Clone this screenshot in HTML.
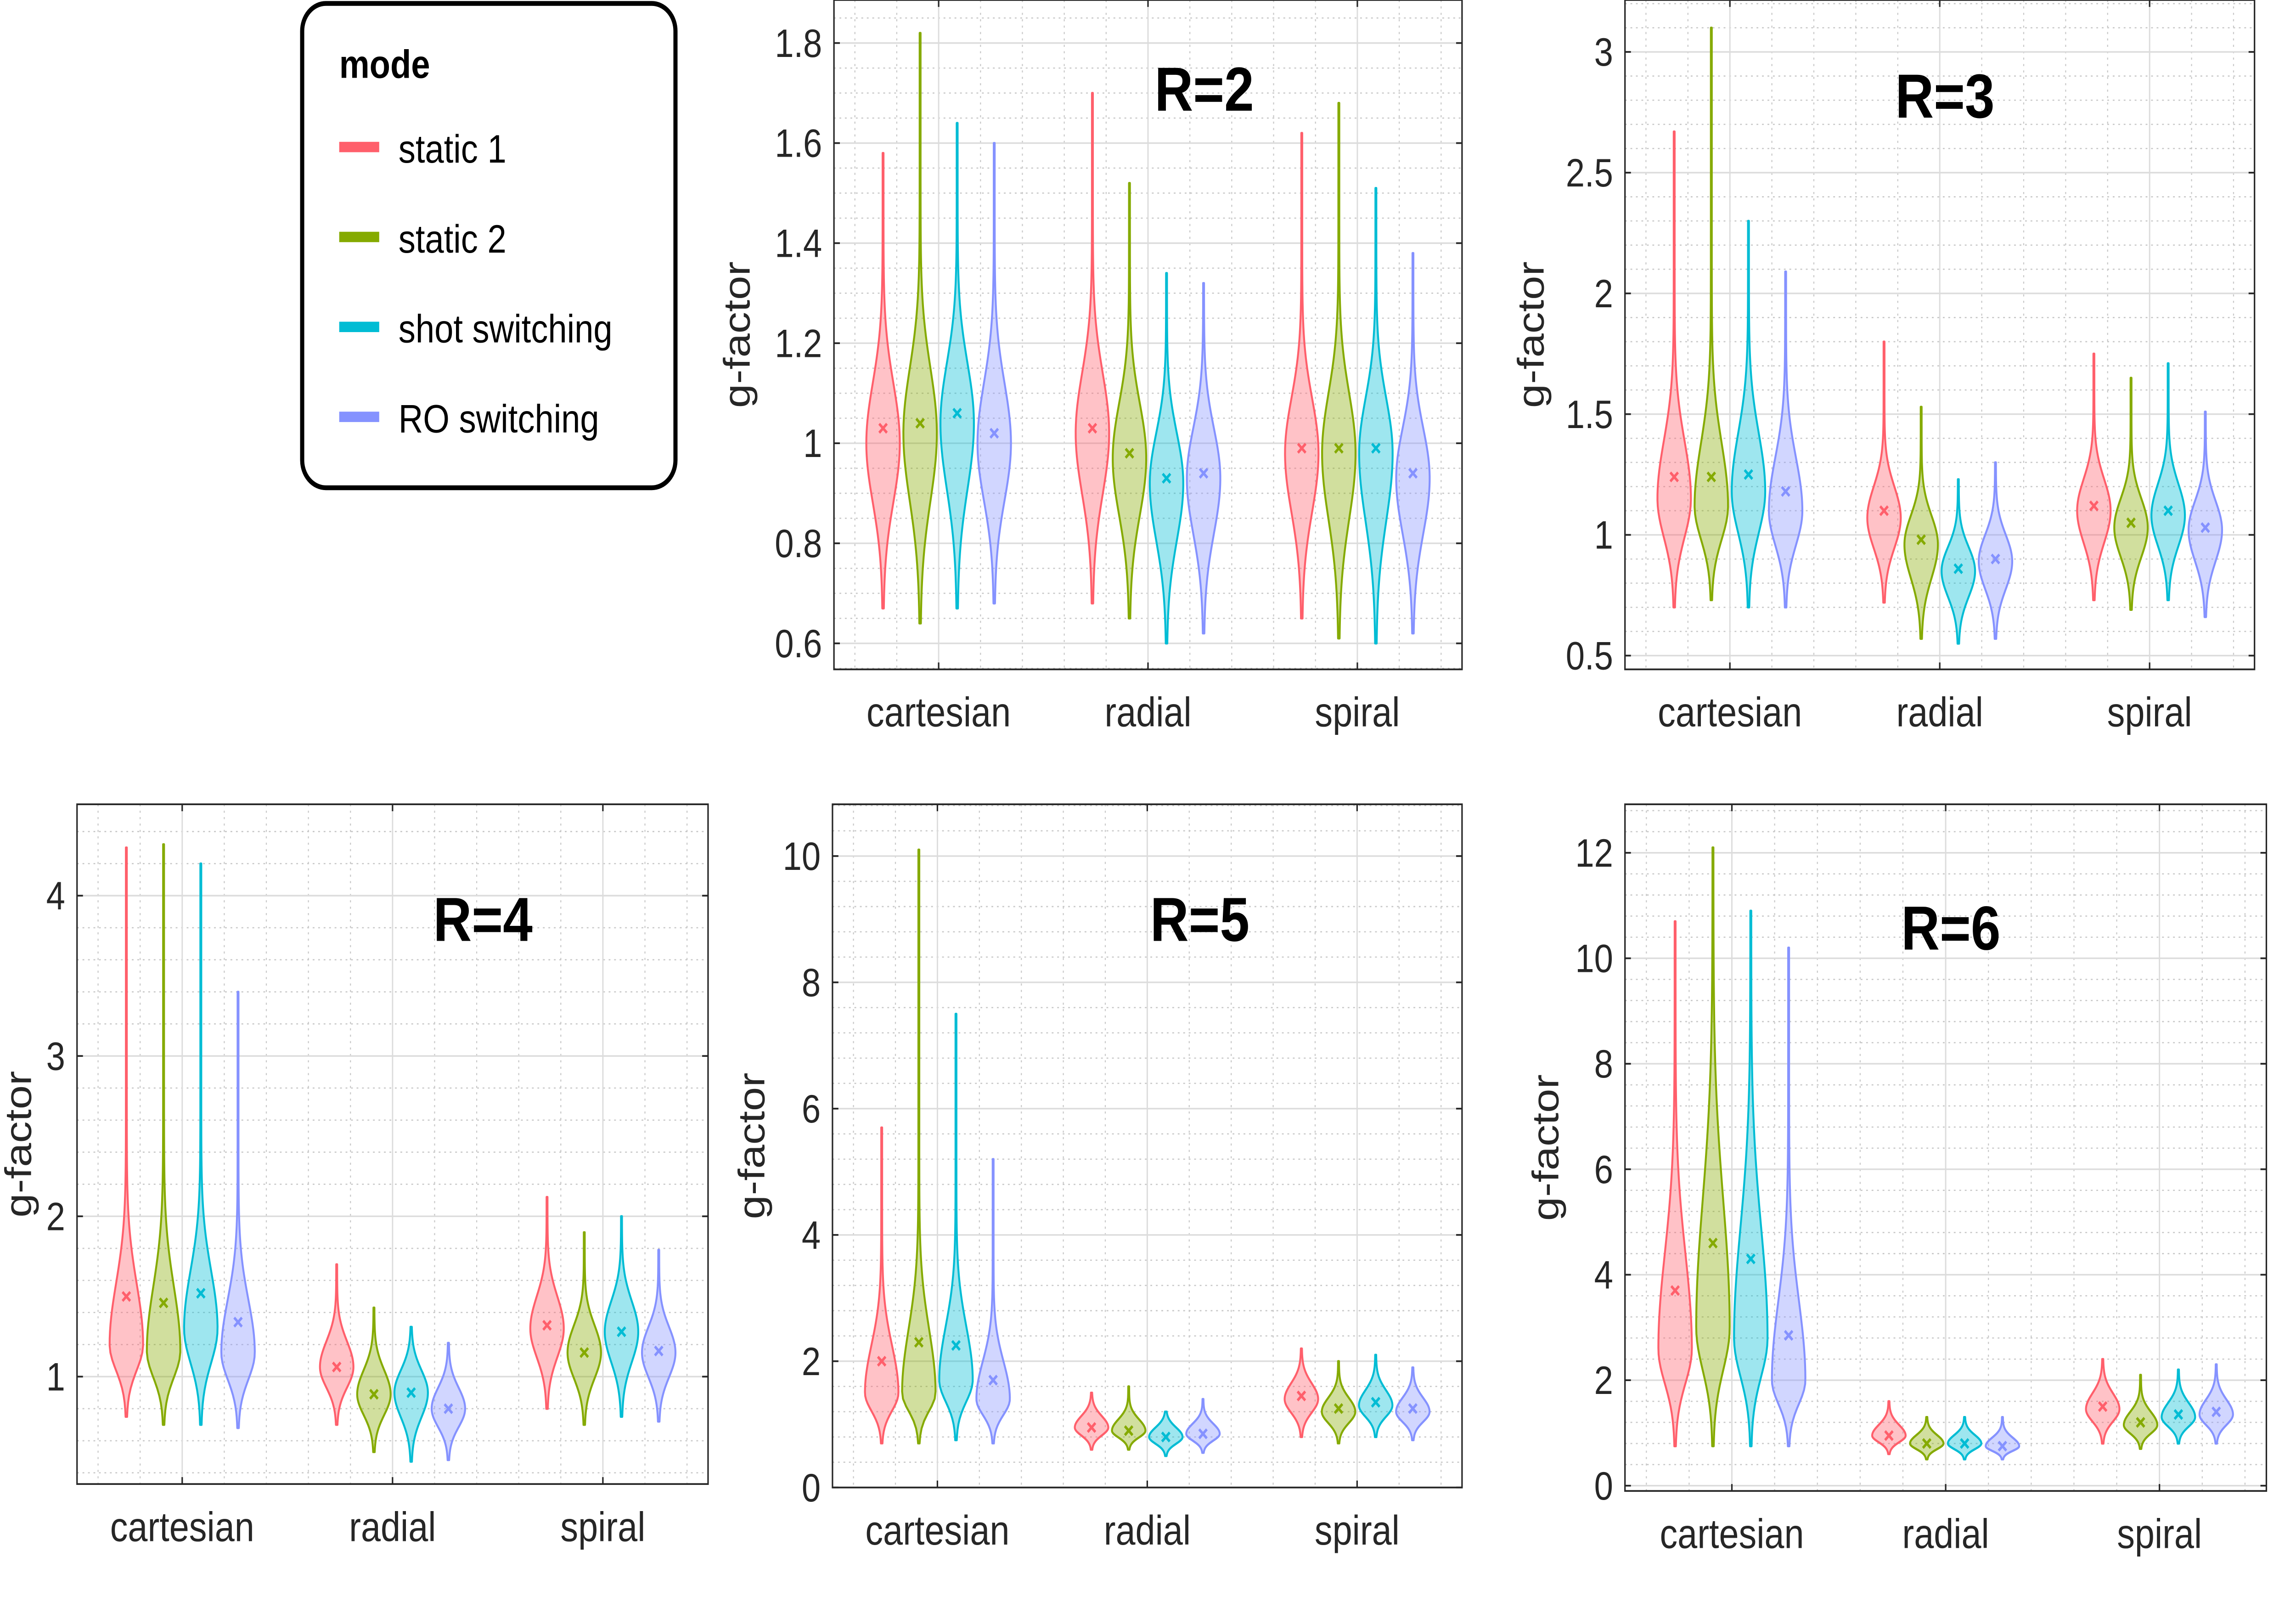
<!DOCTYPE html>
<html><head><meta charset="utf-8"><style>
html,body{margin:0;padding:0;background:#fff;overflow:hidden;width:100%;height:100%;}
svg{display:block;width:100vw;height:100vh;}
text{font-family:"Liberation Sans",Arial,sans-serif;}
</style></head><body>
<svg id="fig" xmlns="http://www.w3.org/2000/svg" viewBox="0 0 1550 926.2" preserveAspectRatio="none">
<rect x="0" y="0" width="1550" height="926.2" fill="#fff"/>
<g>
<rect x="204" y="2" width="252" height="280" rx="16" ry="16" fill="#fff" stroke="#000" stroke-width="2.8"/>
<text x="229" y="45" font-size="23" font-weight="bold">mode</text>
<g><rect x="229" y="82" width="27" height="6" fill="#FF5F6B"/><text x="269" y="94" font-size="23">static 1</text></g>
<g><rect x="229" y="134" width="27" height="6" fill="#85AA00"/><text x="269" y="146" font-size="23">static 2</text></g>
<g><rect x="229" y="186" width="27" height="6" fill="#00BCD4"/><text x="269" y="198" font-size="23">shot switching</text></g>
<g><rect x="229" y="238" width="27" height="6" fill="#8592FF"/><text x="269" y="250" font-size="23">RO switching</text></g>
</g>
</svg>
<script>
const categories = ["cartesian","radial","spiral"];
const modes = ["static 1","static 2","shot switching","RO switching"];
const colors = ["#FF5F6B","#85AA00","#00BCD4","#8592FF"];
const titles = ["R=2","R=3","R=4","R=5","R=6"];

// per panel: 12 violins = 3 categories x 4 modes
const r2Min  = [0.67,0.64,0.67,0.68, 0.68,0.65,0.60,0.62, 0.65,0.61,0.60,0.62];
const r2Max  = [1.58,1.82,1.64,1.60, 1.70,1.52,1.34,1.32, 1.62,1.68,1.51,1.38];
const r2Mean = [1.03,1.04,1.06,1.02, 1.03,0.98,0.93,0.94, 0.99,0.99,0.99,0.94];
const r2Peak = [1.00,1.02,1.04,1.00, 1.02,0.97,0.92,0.93, 0.98,0.98,0.98,0.93];
const r2Sd   = [0.12,0.13,0.12,0.12, 0.12,0.11,0.10,0.10, 0.11,0.12,0.11,0.10];

const r3Min  = [0.70,0.73,0.70,0.70, 0.72,0.57,0.55,0.57, 0.73,0.69,0.73,0.66];
const r3Max  = [2.67,3.10,2.30,2.09, 1.80,1.53,1.23,1.30, 1.75,1.65,1.71,1.51];
const r3Mean = [1.24,1.24,1.25,1.18, 1.10,0.98,0.86,0.90, 1.12,1.05,1.10,1.03];
const r3Peak = [1.15,1.12,1.18,1.10, 1.07,0.96,0.85,0.89, 1.10,1.03,1.08,1.02];
const r3Sd   = [0.24,0.26,0.24,0.22, 0.13,0.12,0.10,0.11, 0.13,0.12,0.13,0.12];

const r4Min  = [0.75,0.70,0.70,0.68, 0.70,0.53,0.47,0.48, 0.80,0.70,0.75,0.72];
const r4Max  = [4.30,4.32,4.20,3.40, 1.70,1.43,1.31,1.21, 2.12,1.90,2.00,1.79];
const r4Mean = [1.50,1.46,1.52,1.34, 1.06,0.89,0.90,0.80, 1.32,1.15,1.28,1.16];
const r4Peak = [1.20,1.16,1.30,1.15, 1.06,0.89,0.90,0.80, 1.30,1.15,1.28,1.15];
const r4Sd   = [0.38,0.40,0.36,0.33, 0.16,0.15,0.14,0.13, 0.20,0.17,0.19,0.16];

const r5Min  = [0.70,0.70,0.75,0.70, 0.60,0.60,0.50,0.55, 0.80,0.70,0.80,0.75];
const r5Max  = [5.70,10.10,7.50,5.20, 1.50,1.60,1.20,1.40, 2.20,2.00,2.10,1.90];
const r5Mean = [2.00,2.30,2.25,1.70, 0.95,0.90,0.80,0.85, 1.45,1.25,1.35,1.25];
const r5Peak = [1.50,1.50,1.70,1.40, 0.95,0.90,0.80,0.85, 1.40,1.20,1.30,1.20];
const r5Sd   = [0.75,1.00,0.85,0.60, 0.18,0.18,0.15,0.16, 0.25,0.22,0.24,0.22];

const r6Min  = [0.75,0.75,0.75,0.75, 0.60,0.50,0.50,0.50, 0.80,0.70,0.80,0.80];
const r6Max  = [10.70,12.10,10.90,10.20, 1.60,1.30,1.30,1.30, 2.40,2.10,2.20,2.30];
const r6Mean = [3.70,4.60,4.30,2.85, 0.95,0.80,0.80,0.75, 1.50,1.20,1.35,1.40];
const r6Peak = [2.60,3.00,2.80,2.00, 0.95,0.80,0.80,0.75, 1.45,1.15,1.30,1.35];
const r6Sd   = [1.80,2.40,2.10,1.50, 0.20,0.16,0.16,0.16, 0.30,0.25,0.27,0.28];

const r2Ticks = [0.6,0.8,1,1.2,1.4,1.6,1.8];
const r3Ticks = [0.5,1,1.5,2,2.5,3];
const r4Ticks = [1,2,3,4];
const r5Ticks = [0,2,4,6,8,10];
const r6Ticks = [0,2,4,6,8,10,12];

const panels = [
 {title:titles[0], box:[563,0,987,387], y:[0.548,1.886], ticks:r2Ticks, minor:0.05, min:r2Min,max:r2Max,mean:r2Mean,peak:r2Peak,sd:r2Sd, ylx:497, tx:813, ty:64},
 {title:titles[1], box:[1097,0,1522,387], y:[0.443,3.215], ticks:r3Ticks, minor:0.1, min:r3Min,max:r3Max,mean:r3Mean,peak:r3Peak,sd:r3Sd, ylx:1033, tx:1313, ty:68},
 {title:titles[2], box:[52,465,478,858], y:[0.33,4.57], ticks:r4Ticks, minor:0.2, min:r4Min,max:r4Max,mean:r4Mean,peak:r4Peak,sd:r4Sd, ylx:12, tx:326, ty:544},
 {title:titles[3], box:[562,465,987,860], y:[0,10.82], ticks:r5Ticks, minor:0.4, min:r5Min,max:r5Max,mean:r5Mean,peak:r5Peak,sd:r5Sd, ylx:507, tx:810, ty:544},
 {title:titles[4], box:[1097,465,1530,862], y:[-0.1,12.92], ticks:r6Ticks, minor:0.4, min:r6Min,max:r6Max,mean:r6Mean,peak:r6Peak,sd:r6Sd, ylx:1043, tx:1317, ty:549}
];

const NS = "http://www.w3.org/2000/svg";
const svg = document.getElementById("fig");
function mk(tag, attrs, parent){const e=document.createElementNS(NS,tag);for(const k in attrs)e.setAttribute(k,attrs[k]);(parent||svg).appendChild(e);return e;}

panels.forEach((p,pi)=>{
  const [x0,y0,x1,y1]=p.box;
  const g = mk("g",{});
  
  
  const xs = v => x0 + (v-0.5)/3*(x1-x0);
  const ys = v => y1 - (v-p.y[0])/(p.y[1]-p.y[0])*(y1-y0);
  for(let k=Math.ceil(p.y[0]/p.minor);k*p.minor<=p.y[1];k++){
    const v=k*p.minor; const yy=ys(v);
    mk("line",{x1:x0,x2:x1,y1:yy,y2:yy,stroke:"#c8c8c8","stroke-width":0.7,"stroke-dasharray":"1.2,2.5"},g);
  }
  for(let v=0.6; v<3.5; v+=0.2){
    if(Math.abs(v-Math.round(v))<1e-6) continue;
    const xx=xs(v);
    mk("line",{x1:xx,x2:xx,y1:y0,y2:y1,stroke:"#c8c8c8","stroke-width":0.7,"stroke-dasharray":"1.2,2.5"},g);
  }
  p.ticks.forEach(t=>{const yy=ys(t);mk("line",{x1:x0,x2:x1,y1:yy,y2:yy,stroke:"#dcdcdc","stroke-width":0.9},g);});
  [1,2,3].forEach(c=>{const xx=xs(c);mk("line",{x1:xx,x2:xx,y1:y0,y2:y1,stroke:"#dcdcdc","stroke-width":0.9},g);});
  for(let c=0;c<3;c++){
    for(let m=0;m<4;m++){
      const i=c*4+m;
      const cx=xs(c+1+(m-1.5)*0.177);
      const mn=p.min[i], mx=p.max[i], pk=p.peak[i], sdHi=p.sd[i];
      const sdLo=(pk-mn)/2.8;
      const W=11, N=80;
      const left=[], right=[];
      for(let j=0;j<=N;j++){
        const v=mn+(mx-mn)*j/N;
        const s = v<pk?sdLo:sdHi;
        const z=(v-pk)/s;
        const w=W*Math.exp(-0.5*z*z)+0.3;
        left.push((cx-w).toFixed(2)+","+ys(v).toFixed(2));
        right.push((cx+w).toFixed(2)+","+ys(v).toFixed(2));
      }
      const d="M"+left.join("L")+"L"+right.reverse().join("L")+"Z";
      const vp=mk("path",{d:d,fill:colors[m],"fill-opacity":0.38,stroke:colors[m],"stroke-width":1.3,"stroke-linejoin":"round"},g);
      
      
      const my=ys(p.mean[i]), r=2.6;
      const mkp=mk("path",{d:`M${cx-r},${my-r}L${cx+r},${my+r}M${cx-r},${my+r}L${cx+r},${my-r}`,stroke:colors[m],"stroke-width":1.6},g);
      
      
    }
  }
  mk("rect",{x:x0,y:y0,width:x1-x0,height:y1-y0,fill:"none",stroke:"#262626","stroke-width":1},g);
  p.ticks.forEach(t=>{
    const yy=ys(t);
    mk("line",{x1:x0,x2:x0+4,y1:yy,y2:yy,stroke:"#262626","stroke-width":1},g);
    mk("line",{x1:x1,x2:x1-4,y1:yy,y2:yy,stroke:"#262626","stroke-width":1},g);
    const tl=mk("text",{x:x0-8,y:yy+8,"font-size":23,"text-anchor":"end",fill:"#262626"},g);
    tl.textContent=String(t);
    
    
  });
  [1,2,3].forEach((c,ci)=>{
    const xx=xs(c);
    mk("line",{x1:xx,x2:xx,y1:y1,y2:y1-4,stroke:"#262626","stroke-width":1},g);
    mk("line",{x1:xx,x2:xx,y1:y0,y2:y0+4,stroke:"#262626","stroke-width":1},g);
    const cl=mk("text",{x:xx,y:y1+33,"font-size":24,"text-anchor":"middle",fill:"#262626"},g);
    cl.textContent=categories[ci];
    
    
  });
  const yl=mk("text",{x:0,y:0,"font-size":25,"text-anchor":"middle",fill:"#262626",transform:`translate(${p.ylx+9},${(y0+y1)/2}) rotate(-90)`},g);
  yl.textContent="g-factor";
  
  
  const tt=mk("text",{x:p.tx,y:p.ty,"font-size":36,"font-weight":"bold","text-anchor":"middle",fill:"#000"},g);
  tt.textContent=p.title;
  
  
});
</script>
</body></html>
